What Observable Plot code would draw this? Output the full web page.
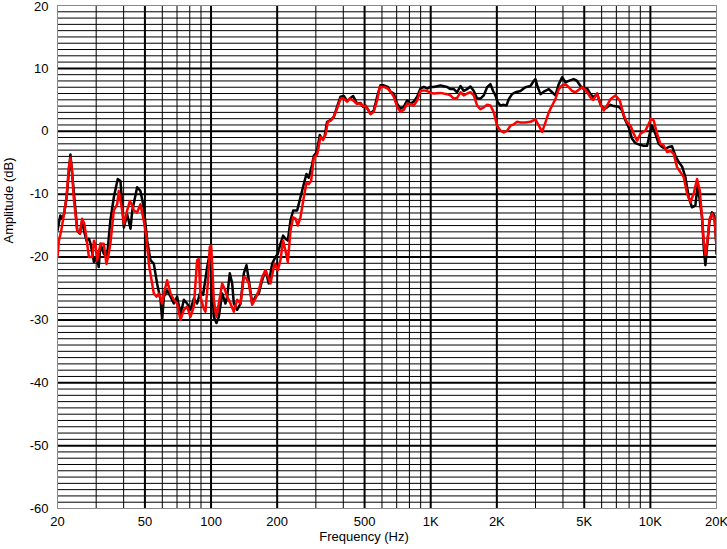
<!DOCTYPE html>
<html><head><meta charset="utf-8">
<script src="https://cdn.jsdelivr.net/npm/d3@7"></script>
<script src="https://cdn.jsdelivr.net/npm/@observablehq/plot@0.6"></script>
<style>
html,body{margin:0;padding:0;background:#fff;}
#chart svg{display:block;}
</style></head><body><div id="chart"></div>
<script>
// ---- Data (frequency in Hz, amplitude in dB) ----
const blackFreq = [20,20.6,21.0,21.4,22.0,22.9,24.15,24.6,25.3,25.9,26.4,27.1,27.8,28.3,29.3,30.3,30.8,31.4,32.5,33.6,34.8,36.1,37.6,38.7,40.1,41.5,43.0,43.8,46.1,47.7,49.4,51.2,53.0,54.9,56.8,58.9,59.9,61.0,63.1,65.4,67.7,70.1,72.6,75.2,77.8,80.6,83.5,86.4,
  89.5,92.0,94.3,96.0,98.7,101.5,102.9,105.8,108.5,112.4,116.3,118.4,121.7,124.8,127.0,131.5,136.2,141.0,145.0,148.6,153.9,159.3,165.0,170.9,177.0,183.1,189.8,196.5,201.4,207.0,212.9,218.2,223.6,230.0,236.5,246.6,255.3,264.4,271.8,278.6,288.5,293.6,300,
  304,312.7,320.4,328.4,337.7,349.7,362.1,375,388.4,402.2,416.5,428.3,443.5,462.5,478.9,492.4,504.6,531.7,550.6,570.2,590.5,611.5,637.7,655.7,679,703.2,728.2,754.2,781,808.8,837.5,867.4,898.3,930.3,963,997.4,1032.9,1107.4,1187.6,
  1230,1274,1319,1366,1414,1464,1517,1571,1626,1684,1744,1806,1870,1923,1971,2020,2077,2151,2212,2267,2347,2431,2561,2698,2845,2946,2998,3072,3159,3271,3447,3570,3696,3828,3964,4105,4251,4479,4639,4804,4977,5153,
  5336,5525,5721,5924,6134,6352,6578,6812,7178,7434,7699,7972,8256,8550,8853,9329,9662,9934,10180,10541,10914,11304,11707,12121,12553,12998,13461,13941,14434,14949,15478,16030,16427,16774,17188,17491,17801,18115,18562,19086,19557,19970,20000];
const blackDb = [-15.8,-13.4,-13.9,-13.2,-10.5,-3.7,-12.6,-15.8,-16.3,-14.2,-15.8,-17.4,-17.1,-17.9,-20.8,-20.0,-21.6,-17.9,-19.5,-20.0,-14.2,-10.5,-7.6,-7.9,-15.3,-13.2,-15.5,-12.6,-8.9,-9.5,-12.1,-17.4,-20.5,-21.1,-24.2,-26.8,-30,-26.3,-25.3,-26.3,-27.4,-26.3,-29.2,-26.8,-27.4,-28.4,-26.6,-27.4,
  -25.5,-26.0,-23.5,-21.6,-19.5,-25,-29.5,-30.5,-29.5,-25.8,-27.4,-26.3,-22.6,-24.2,-27.4,-28.4,-27.4,-22.6,-21.3,-23.7,-27.4,-26.3,-25.8,-23.7,-22.1,-24.2,-21.05,-20,-19.5,-17.9,-16.6,-17.1,-17.4,-14.2,-12.6,-12.6,-10.5,-8.4,-6.8,-7.4,-5.3,-3.9,-3.5,
  -3.0,-0.6,-1.2,-0.9,1.5,1.75,2.3,3.9,5.5,5.6,4.8,5.2,5.6,4.4,4.5,3.9,4.1,2.8,3.3,5.5,7.3,7.3,7.05,6.3,6.0,4.4,3.6,3.9,4.9,4.4,4.7,5.5,6.8,7.05,6.8,7.05,7.05,7.3,7.05,
  6.7,6.7,6.2,7.2,6.4,6.7,7.1,6.4,5.2,5.2,5.7,7.0,7.5,6.4,5.7,4.6,4.1,4.2,4.1,5.1,5.9,6.2,6.4,7.0,7.2,8.0,8.3,7.0,5.9,6.3,6.7,6.2,5.7,7.5,8.6,7.8,8.0,8.3,8.0,7.2,6.7,6.8,
  5.9,5.4,6.0,4.3,3.5,3.8,4.2,4.0,3.9,3.3,1.7,0.6,-1.2,-1.9,-2.1,-2.3,-2.3,-0.4,0.9,-0.4,-2.0,-2.5,-2.8,-2.5,-2.4,-3.9,-4.9,-5.6,-7.3,-10.5,-12.1,-11.8,-8.5,-11.0,-13.7,-18.4,-21.3,-18.4,-14.4,-12.9,-13.4,-17.9,-19.5];

const redFreq = [20,20.3,20.8,21.4,22.0,22.5,22.9,23.3,23.7,24.6,25.3,25.9,26.5,27.3,27.8,28.8,29.3,29.8,30.3,31.4,32.5,33.4,34.2,34.8,36.1,37.4,38.0,39.0,40.1,41.5,42.7,43.8,44.5,46.1,47.7,49.4,50.8,52.1,53.9,54.9,56.5,57.9,59.9,61.0,63.1,65.4,67.7,70.1,72.6,75.2,77.8,80.6,83.5,
  86.4,87.9,89.5,92.0,94.3,96.7,98.7,100.1,101.5,102.9,105.8,108.5,112.4,115.1,118.4,122.6,127.0,131.5,136.2,141.0,145.0,148.6,153.9,159.3,165.0,170.9,177.0,186.5,194.5,201.4,207.0,212.9,218.2,223.6,230.0,236.5,242.3,248.3,255.3,264.4,271.8,278.6,285.5,293.6,304.1,
  314.9,323.8,331.9,340.1,352.2,362.1,377.6,388.4,402.2,416.5,428.3,443.5,459.3,478.9,492.4,508.1,531.7,550.6,570.2,586.4,611.5,637.7,655.7,679,703.2,728.2,754.2,781,808.8,837.5,867.4,898.3,930.3,963,997.4,1032.9,1107.4,1187.6,
  1230,1274,1319,1366,1414,1464,1517,1571,1626,1684,1744,1806,1870,1937,2006,2077,2151,2228,2307,2389,2473,2561,2698,2845,2998,3105,3215,3329,3447,3570,3696,3828,3964,4105,4251,4402,4559,4723,4890,5065,
  5336,5487,5721,5924,6134,6352,6578,6932,7254,7565,7835,8113,8401,8699,9009,9494,9829,10075,10358,10727,11108,11503,11910,12335,12775,13228,13699,14184,14690,15213,15752,16313,16774,17188,17491,17801,18115,18626,19152,19625,20000];
const redDb = [-20,-17.4,-15.8,-13.2,-10.5,-5.8,-4.2,-6.3,-10.5,-15.8,-16.3,-13.9,-14.7,-17.9,-20,-20,-17.4,-18.2,-20.5,-17.9,-17.9,-21.1,-19.5,-17.9,-12.6,-11.6,-9.5,-11.6,-14.7,-12.6,-11.1,-11.8,-12.6,-12.9,-11.6,-14.2,-16.8,-21.1,-24.2,-25.8,-26.3,-25.8,-27.4,-25.8,-23.7,-25.8,-26.8,-27.4,-30,-28.4,-27.9,-29.5,-27.9,
  -20.5,-20.3,-26.3,-27.9,-28.7,-24.2,-18.4,-18.2,-22.1,-26.8,-29.5,-27.4,-24.2,-25.0,-26.3,-27.4,-28.7,-26.8,-27.4,-23.2,-23.4,-24.2,-27.6,-26.6,-25.3,-23.2,-22.1,-24.2,-21.05,-22.1,-20.5,-17.4,-19.0,-20.8,-15.8,-13.7,-13.9,-15.0,-13.7,-10.5,-8.2,-8.4,-7.9,-4.2,-3.7,
  -0.9,-1.4,-0.6,1.5,1.75,2.3,3.9,5.2,5.2,4.7,5.2,4.9,4.4,4.4,4.0,4.0,2.7,3.1,4.9,7.05,7.05,6.8,6.3,5.5,3.9,3.1,3.4,4.4,4.3,4.1,4.9,6.4,6.5,6.4,6.1,6.0,6.1,5.9,
  5.7,5.2,5.3,6.2,5.7,6.0,6.2,5.7,4.1,3.5,3.8,4.2,4.1,3.0,0.9,0.1,-0.2,0.1,0.9,1.1,1.5,1.4,1.4,1.5,1.9,0.9,-0.1,1.4,3.0,4.1,5.1,6.7,7.3,7.5,7.0,6.4,6.2,6.6,7.0,6.6,
  5.4,5.0,6.0,4.3,3.3,4.1,5.1,5.7,4.9,2.5,1.4,0.9,-0.4,-1.5,-0.4,0.1,1.2,2.0,1.7,-0.4,-2.0,-2.3,-3.3,-3.1,-3.6,-5.7,-6.5,-7.3,-9.9,-11.3,-9.9,-7.6,-9.4,-13.7,-17.4,-19.7,-17.9,-13.9,-13.1,-14.2,-18.4];

// ---- Axes / ticks ----
const xTickValues = [20,50,100,200,500,1000,2000,5000,10000,20000];
const xTickLabels = ["20","50","100","200","500","1K","2K","5K","10K","20K"];
const yTickValues = [10,0,-10,-20,-30,-40,-50,-60];
const yTopTick = [20];
const xMajorGrid = [50,100,200,500,1000,2000,5000,10000];
const xMinorGrid = [30,40,60,70,80,90,300,400,600,700,800,900,3000,4000,6000,7000,8000,9000];
const yMajorGrid = [10,0,-10,-20,-30,-40,-50];
const xLabel = "Frequency (Hz)";
const yLabel = "Amplitude (dB)";

const yMinorGrid = d3.range(-59, 20).filter(v => v % 10 !== 0);
const xTicks = xTickValues.map((v, i) => ({v, label: xTickLabels[i]}));
const black = blackFreq.map((f, i) => ({f, db: blackDb[i]}));
const red = redFreq.map((f, i) => ({f, db: redDb[i]}));

const chart = Plot.plot({
  width: 727,
  height: 549,
  marginLeft: 57,
  marginRight: 11,
  marginTop: 5,
  marginBottom: 41,
  style: {fontFamily: "'Liberation Sans', Arial, sans-serif", fontSize: "13px", color: "#000", background: "#fff"},
  x: {type: "log", domain: [20, 20000], axis: null},
  y: {domain: [-60, 20], axis: null},
  marks: [
    Plot.ruleY(yMinorGrid, {stroke: "#000", strokeWidth: 1}),
    Plot.ruleX(xMinorGrid, {stroke: "#000", strokeWidth: 1}),
    Plot.ruleY(yMajorGrid, {stroke: "#000", strokeWidth: 2}),
    Plot.ruleX(xMajorGrid, {stroke: "#000", strokeWidth: 2}),
    Plot.line(black, {x: "f", y: "db", stroke: "#000", strokeWidth: 2.5, clip: true}),
    Plot.line(red, {x: "f", y: "db", stroke: "#ff0000", strokeWidth: 2.5, clip: true}),
    Plot.frame({stroke: "#8a8a8a"}),
    Plot.text(xTicks, {x: "v", frameAnchor: "bottom", text: "label", lineAnchor: "top", dy: 8, fill: "#000"}),
    Plot.text(yTickValues, {y: d => d, frameAnchor: "left", text: d => String(d), textAnchor: "end", dx: -9, fill: "#000"}),
    Plot.text(yTopTick, {y: d => d, frameAnchor: "left", text: d => String(d), textAnchor: "end", dx: -9, dy: 1.5, fill: "#000"}),
    Plot.text([xLabel], {frameAnchor: "bottom", text: d => d, dx: -23, dy: 32.5, fill: "#000"}),
    Plot.text([yLabel], {frameAnchor: "left", text: d => d, rotate: -90, dx: -48.5, dy: -13.5, fill: "#000"})
  ]
});
document.getElementById("chart").appendChild(chart);
</script>
</body></html>
